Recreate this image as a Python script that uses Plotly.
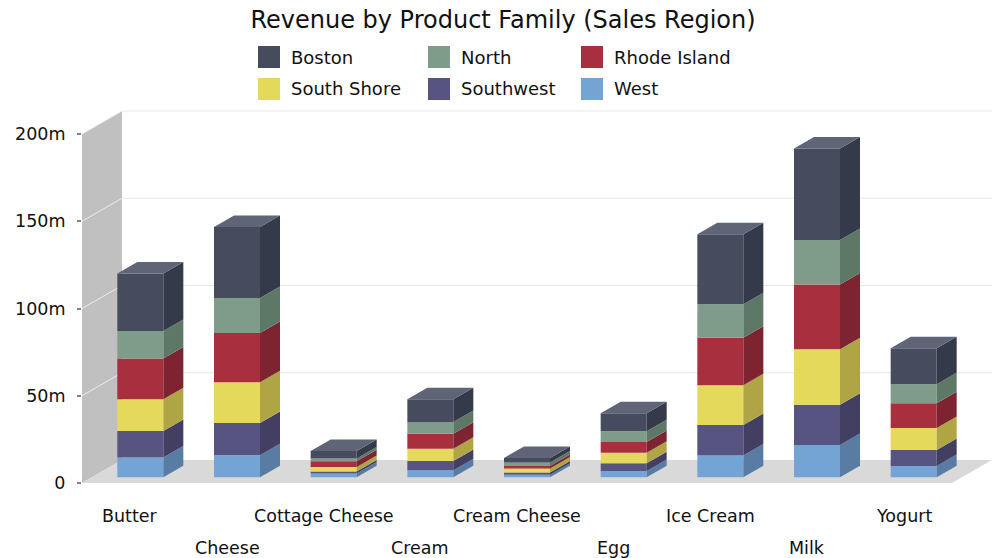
import plotly.graph_objects as go

# ---- data (millions) ----
categories = ["Butter", "Cheese", "Cottage Cheese", "Cream", "Cream Cheese",
              "Egg", "Ice Cream", "Milk", "Yogurt"]
west = [11.3, 12.6, 2.1, 4.0, 1.5, 3.6, 12.4, 18.5, 6.5]
southwest = [15.2, 18.5, 1.2, 5.3, 1.2, 4.4, 17.6, 23.1, 9.1]
south_shore = [18.2, 23.3, 2.6, 7.1, 2.3, 6.1, 22.7, 31.7, 12.6]
rhode_island = [23.3, 28.2, 3.3, 8.6, 1.5, 6.1, 27.3, 37.1, 14.2]
north = [15.8, 20.1, 1.5, 6.7, 1.9, 6.1, 19.1, 25.5, 10.9]
boston = [33.0, 40.7, 4.4, 13.0, 2.7, 10.4, 40.1, 52.5, 20.6]

y_tick_vals = [0, 50, 100, 150, 200]
y_tick_text = ["0", "50m", "100m", "150m", "200m"]

# stacking order, bottom to top: (name, values, front, side)
series = [
    ("West", west, "#74a4d4", "#587ca3"),
    ("Southwest", southwest, "#575482", "#423f63"),
    ("South Shore", south_shore, "#e5d95c", "#b0a545"),
    ("Rhode Island", rhode_island, "#a82f3e", "#7e2430"),
    ("North", north, "#7e9c89", "#5e7868"),
    ("Boston", boston, "#464b5e", "#353a4a"),
]
top_face_color = "#5f6477"

# ---- layout geometry ----
W, H = 992, 558
ML, MR, MT, MB = 82, 0, 100, 75
PW, PH = W - ML - MR, H - MT - MB
N = len(categories)
SLOT = 870 / N                 # px per category on the front plane
PPM = 349 / 200                # px per million
X0 = -0.5
X1 = X0 + PW / SLOT
Y1 = PH / PPM
DX = 40 / SLOT                 # full depth of the floor, in x units
DY = 23 / PPM                  # full depth of the floor, in y units
BAR_W = 46 / SLOT
FRONT, BACK = 0.25, 0.75       # depth band occupied by the columns
WALL_TOP = 200

fig = go.Figure()

# front faces as stacked bars
base = [FRONT * DY] * N
for name, vals, front, side in series:
    fig.add_trace(go.Bar(
        x=[i + FRONT * DX for i in range(N)], y=vals, base=list(base),
        width=BAR_W, marker=dict(color=front, line=dict(width=0)),
        name=name, showlegend=False, hoverinfo="skip"))
    base = [b + v for b, v in zip(base, vals)]

# side faces of each segment
sdx = (BACK - FRONT) * DX
sdy = (BACK - FRONT) * DY
base = [FRONT * DY] * N
for name, vals, front, side in series:
    xs, ys = [], []
    for i in range(N):
        xr = i + FRONT * DX + BAR_W / 2
        y0, y1 = base[i], base[i] + vals[i]
        xs += [xr, xr, xr + sdx, xr + sdx, xr, None]
        ys += [y0, y1, y1 + sdy, y0 + sdy, y0, None]
    fig.add_trace(go.Scatter(x=xs, y=ys, mode="lines", fill="toself",
                             fillcolor=side, line=dict(width=0, color=side),
                             showlegend=False, hoverinfo="skip"))
    base = [b + v for b, v in zip(base, vals)]

# top faces
xs, ys = [], []
for i in range(N):
    xl = i + FRONT * DX - BAR_W / 2
    xr = xl + BAR_W
    t = base[i]
    xs += [xl, xr, xr + sdx, xl + sdx, xl, None]
    ys += [t, t, t + sdy, t + sdy, t, None]
fig.add_trace(go.Scatter(x=xs, y=ys, mode="lines", fill="toself",
                         fillcolor=top_face_color,
                         line=dict(width=0, color=top_face_color),
                         showlegend=False, hoverinfo="skip"))

# wall, floor and gridlines
shapes = [
    dict(type="path", xref="x", yref="y", layer="below",
         path=f"M{X0},0 L{X0},{WALL_TOP} L{X0 + DX},{WALL_TOP + DY} L{X0 + DX},{DY} Z",
         fillcolor="#c0c0c0", line=dict(width=0)),
    dict(type="path", xref="x", yref="y", layer="below",
         path=f"M{X0},0 L{X0 + N},0 L{X0 + N + DX},{DY} L{X0 + DX},{DY} Z",
         fillcolor="#d9d9d9", line=dict(width=0)),
]
for v in y_tick_vals[1:]:
    shapes.append(dict(type="line", xref="x", yref="y", layer="below",
                       x0=X0, y0=v, x1=X0 + DX, y1=v + DY,
                       line=dict(color="#ececec", width=1)))
    shapes.append(dict(type="line", xref="x", yref="y", layer="below",
                       x0=X0 + DX, y0=v + DY, x1=X1, y1=v + DY,
                       line=dict(color="#e6e6e6", width=1)))


def px_x(px):
    return (px - ML) / PW


def px_y(py):
    return (H - MB - py) / PH


annotations = []
# legend (Boston first, reading across rows)
legend_cols = [258, 428, 581]
legend_rows = [57, 89]
for k, (name, vals, front, side) in enumerate(reversed(series)):
    cx = legend_cols[k % 3]
    cy = legend_rows[k // 3]
    shapes.append(dict(type="rect", xref="paper", yref="paper",
                       x0=px_x(cx), x1=px_x(cx + 22),
                       y0=px_y(cy + 11), y1=px_y(cy - 11),
                       fillcolor=front, line=dict(width=0)))
    annotations.append(dict(xref="paper", yref="paper", x=px_x(cx + 31),
                            y=px_y(cy), xanchor="left", yanchor="middle",
                            text=name, showarrow=False,
                            font=dict(size=18, color="#111")))

# staggered category labels
for i, c in enumerate(categories):
    annotations.append(dict(xref="x", yref="paper", x=i,
                            y=px_y(516 if i % 2 == 0 else 548),
                            xanchor="center", yanchor="middle", text=c,
                            showarrow=False, font=dict(size=17.5, color="#111")))

fig.update_layout(
    width=W, height=H,
    margin=dict(l=ML, r=MR, t=MT, b=MB, pad=0),
    paper_bgcolor="white", plot_bgcolor="white",
    font=dict(family="DejaVu Sans", size=16, color="#111"),
    title=dict(text="Revenue by Product Family (Sales Region)",
               x=503 / W, xanchor="center", y=1 - 20 / H, yanchor="middle",
               font=dict(size=24, color="#111")),
    barmode="overlay", showlegend=False, hovermode=False,
    shapes=shapes, annotations=annotations,
    xaxis=dict(range=[X0, X1], showticklabels=False, showgrid=False,
               zeroline=False, showline=False, ticks=""),
    yaxis=dict(range=[0, Y1], tickvals=y_tick_vals, ticktext=y_tick_text,
               showgrid=False, zeroline=False, showline=False,
               ticks="outside", ticklen=4, tickwidth=2, tickcolor="#808080",
               ticklabelstandoff=8, tickfont=dict(size=17.5, color="#111")),
)

fig.write_html("out.html")
